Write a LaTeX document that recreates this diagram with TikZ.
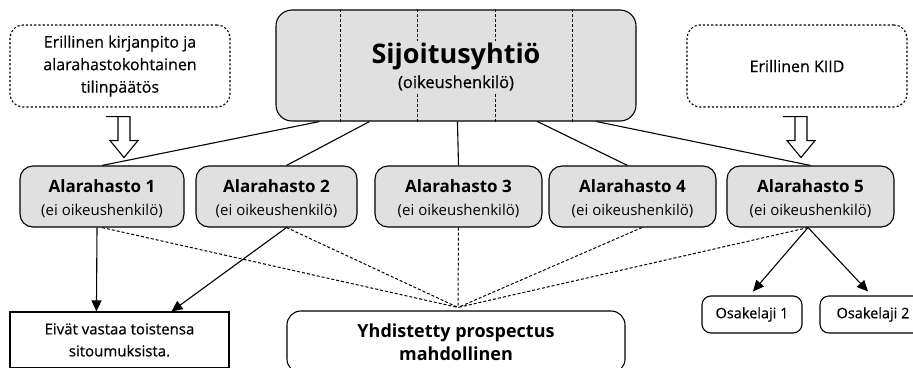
\documentclass[tikz,border=0pt]{standalone}
\usepackage{fontspec}
\setmainfont{Open Sans}
\newfontfamily\medfont{Open Sans}[FakeBold=0.5]
\usetikzlibrary{calc,arrows.meta}

\definecolor{boxgray}{HTML}{E0E0E0}

\tikzset{
  every picture/.style={x=1pt,y=-1pt},
  base/.style={line width=1.1pt,inner sep=0pt,align=center},
  topbox/.style={base,draw,fill=boxgray,rounded corners=16pt},
  fundbox/.style={base,draw,fill=boxgray,rounded corners=13pt,minimum height=61pt},
  notebox/.style={base,draw,dash pattern=on 2.2pt off 2pt,rounded corners=13pt,
    minimum width=220pt,minimum height=82pt},
  plainbox/.style={base,draw},
  roundbox/.style={base,draw,rounded corners=9pt},
  tie/.style={line width=1.1pt},
  dotlink/.style={line width=1pt,dash pattern=on 3pt off 2pt},
  arrowlink/.style={line width=1.1pt,-{Triangle[length=11pt,width=10pt]}},
  hollow/.style={line width=1.1pt,fill=white},
  fnote/.style={font=\medfont\fontsize{16}{22.5}\selectfont},
  fplain/.style={font=\medfont\fontsize{15}{22}\selectfont},
  fclass/.style={font=\medfont\fontsize{14.5}{17}\selectfont},
  fundname/.style={anchor=base,inner sep=0pt,font=\fontsize{17}{20}\selectfont\bfseries},
  fundsub/.style={anchor=base,inner sep=0pt,font=\fontsize{15}{18}\selectfont},
}

\begin{document}
\begin{tikzpicture}
\useasboundingbox (0,0) rectangle (913,367);

% parent company with its compartment lines
\node[topbox,minimum width=360pt,minimum height=111pt] (top) at (456,65.5) {};
\foreach \dx in {65,142,220,297}
  \draw[dotlink] ($(top.north west)+(\dx,0)$) -- ($(top.south west)+(\dx,0)$);
\node[anchor=base,fill=boxgray,inner sep=2pt,font=\fontsize{27}{30}\selectfont\bfseries]
  (title) at (456,63.5) {Sijoitusyhtiö};
\node[anchor=base,fill=boxgray,inner sep=2pt,font=\medfont\fontsize{16.5}{18}\selectfont]
  (titlesub) at (456,88) {(oikeushenkilö)};

% side notes
\node[notebox,fnote] (noteL) at (120,66) {Erillinen kirjanpito ja\\alarahastokohtainen\\tilinpäätös};
\node[notebox,fnote] (noteR) at (797,66) {Erillinen KIID};

% sub-funds
\foreach \i/\x/\w in {1/102/164,2/276.5/161,3/458.5/167,4/632.5/167,5/810.5/167}{
  \node[fundbox,minimum width=\w pt] (a\i) at (\x,196.5) {};
  \node[fundname] (a\i name) at ($(a\i.center)+(0,-3.8)$) {Alarahasto \i};
  \node[fundsub] (a\i sub) at ($(a\i.center)+(0,18.5)$) {(ei oikeushenkilö)};
}

% bottom row
\node[plainbox,fplain,minimum width=219pt,minimum height=56pt] (sep) at (119.5,340)
  {Eivät vastaa toistensa\\sitoumuksista.};
\node[roundbox,rounded corners=14pt,minimum width=338pt,minimum height=62pt,
  font=\fontsize{18}{23}\selectfont\bfseries] (pros) at (456,342)
  {Yhdistetty prospectus\\mahdollinen};
\node[roundbox,fclass,minimum width=100pt,minimum height=37pt] (o1) at (752,314.5) {Osakelaji 1};
\node[roundbox,fclass,minimum width=106pt,minimum height=37pt] (o2) at (873,314.5) {Osakelaji 2};

% company to sub-funds
\draw[tie] ($(top.south west)+(44,0)$) -- (a1.north);
\draw[tie] ($(top.south west)+(94,0)$) -- ($(a2.north)+(10,0)$);
\draw[tie] ($(top.south west)+(182,0)$) -- (a3.north);
\draw[tie] ($(top.south west)+(262,0)$) -- ($(a4.north)+(-5,0)$);
\draw[tie] ($(top.south west)+(321,0)$) -- (a5.north);

% hollow arrows from the notes
\foreach \n in {noteL,noteR}{
  \draw[hollow] ($(\n.south)+(-14,9)$) -- ++(12,0) -- ++(0,24) -- ++(-8,0)
    -- ++(14,17) -- ++(14,-17) -- ++(-8,0) -- ++(0,-24) -- cycle;
}

% dotted links to the combined prospectus
\coordinate (meet) at ($(pros.north)+(2,-3)$);
\draw[dotlink] (a1.south) -- (meet);
\draw[dotlink] ($(a2.south)+(10,0)$) -- (meet);
\draw[dotlink] (a3.south) -- (meet);
\draw[dotlink] ($(a4.south)+(9.5,0)$) -- (meet);
\draw[dotlink] ($(a5.south)+(-2.5,0)$) -- (meet);

% solid arrows
\draw[arrowlink] ($(a1.south)+(-5,0)$) -- ($(sep.north west)+(87,0)$);
\draw[arrowlink] ($(a2.south)+(10,0)$) -- ($(sep.north west)+(162,0)$);
\draw[arrowlink] ($(a5.south)+(-2.5,0)$) -- ($(o1.north)+(1,-4)$);
\draw[arrowlink] ($(a5.south)+(-2.5,0)$) -- ($(o2.north)+(-5,-4)$);
\end{tikzpicture}
\end{document}
